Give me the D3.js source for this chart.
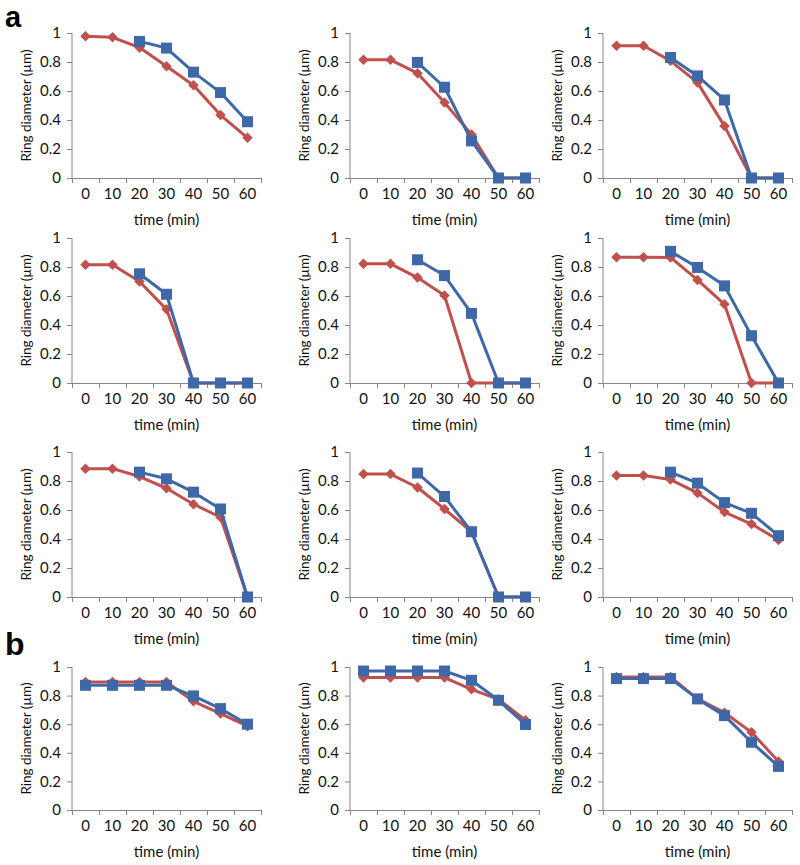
<!DOCTYPE html>
<html><head><meta charset="utf-8">
<script src="https://cdn.jsdelivr.net/npm/d3@7"></script>
<style>body{margin:0;background:#fff}svg{display:block}</style>
</head><body>
<script>
const times = ["0","10","20","30","40","50","60"];
const yTicks = [0, 0.2, 0.4, 0.6, 0.8, 1];
const yTickLabels = ["0","0.2","0.4","0.6","0.8","1"];
const sectionLabels = ["a","b"];
const xTitle = "time (min)";
const yTitle = "Ring diameter (µm)";

// red (diamond) series per panel
const redSeries = [
  [0.977,0.970,0.900,0.770,0.640,0.434,0.277],
  [0.815,0.815,0.723,0.520,0.300,0,0],
  [0.912,0.912,0.808,0.658,0.358,0,0],
  [0.815,0.815,0.700,0.508,0,0,0],
  [0.822,0.822,0.727,0.603,0,0,0],
  [0.868,0.868,0.866,0.711,0.543,0,0],
  [0.885,0.885,0.831,0.750,0.640,0.550,0],
  [0.848,0.848,0.755,0.607,0.450,0,0],
  [0.838,0.838,0.810,0.718,0.586,0.503,0.393],
  [0.895,0.895,0.895,0.895,0.760,0.674,0.586],
  [0.926,0.926,0.926,0.926,0.844,0.774,0.628],
  [0.930,0.930,0.930,0.777,0.681,0.544,0.339]
];
// blue (square) series per panel
const blueSeries = [
  [null,null,0.942,0.896,0.730,0.589,0.388],
  [null,null,0.797,0.626,0.256,0,0],
  [null,null,0.831,0.704,0.538,0,0],
  [null,null,0.753,0.612,0,0,0],
  [null,null,0.850,0.741,0.480,0,0],
  [null,null,0.908,0.797,0.670,0.326,0],
  [null,null,0.861,0.815,0.723,0.607,0],
  [null,null,0.855,0.693,0.450,0,0],
  [null,null,0.861,0.785,0.651,0.577,0.423],
  [0.872,0.872,0.872,0.872,0.798,0.709,0.600],
  [0.972,0.972,0.972,0.972,0.907,0.767,0.598],
  [0.919,0.919,0.919,0.777,0.660,0.474,0.305]
];

const W = 800, H = 865;
const colX = [72, 350, 603];
const rowTop = [33, 238, 452, 667];
const rowBottom = [178, 383, 597, 810];
const plotW = 189;
const RED = "#C0504D", BLUE = "#3E68A8", AXIS = "#868686", TXT = "#111";
const FONT = "Lato, 'Open Sans', sans-serif";

const svg = d3.select("body").append("svg").attr("width", W).attr("height", H);

svg.append("text").attr("x", 5).attr("y", 27).text(sectionLabels[0])
  .attr("font-family","'Liberation Sans', Arial, sans-serif").attr("font-weight","bold").attr("font-size", 29);
svg.append("text").attr("x", 5).attr("y", 655).text(sectionLabels[1])
  .attr("font-family","'Liberation Sans', Arial, sans-serif").attr("font-weight","bold").attr("font-size", 32);

for (let p = 0; p < 12; p++) {
  const r = Math.floor(p / 3), c = p % 3;
  const x0 = colX[c], top = rowTop[r], bot = rowBottom[r];
  const x = d3.scaleBand().domain(times).range([x0, x0 + plotW]);
  const y = d3.scaleLinear().domain([0, 1]).range([bot, top]);
  const g = svg.append("g");

  // y axis
  const ya = g.append("g").attr("transform", `translate(${x0},0)`)
    .call(d3.axisLeft(y).tickValues(yTicks).tickFormat((d,i)=>yTickLabels[i]).tickSize(5).tickPadding(6));
  ya.select(".domain").attr("stroke", AXIS).attr("d", `M-0.5,${bot}V${top}`).attr("transform","translate(0.5,0)");
  ya.selectAll(".tick line").attr("stroke", AXIS);
  ya.selectAll("text").attr("font-family", FONT).attr("font-size", 15).attr("fill", TXT);

  // x axis: tick marks at category boundaries
  const xa = g.append("g").attr("transform", `translate(0,${bot})`)
    .call(d3.axisBottom(x).tickSize(0).tickPadding(10));
  xa.select(".domain").attr("stroke", AXIS).attr("d", `M${x0},0.5H${x0+plotW}`);
  xa.selectAll("text").attr("font-family", FONT).attr("font-size", 15).attr("fill", TXT);
  const bounds = times.map(t => x(t)).concat([x0 + plotW]);
  g.append("g").selectAll("line").data(bounds).join("line")
    .attr("x1", d => Math.round(d)+0.5).attr("x2", d => Math.round(d)+0.5)
    .attr("y1", bot).attr("y2", bot + 5).attr("stroke", AXIS);

  // titles
  g.append("text").attr("x", x0 + plotW/2).attr("y", bot + 47).attr("text-anchor","middle")
    .attr("font-family", FONT).attr("font-size", 15).attr("fill", TXT).text(xTitle);
  g.append("text").attr("transform", `translate(${x0-41},${(top+bot)/2}) rotate(-90)`)
    .attr("text-anchor","middle").attr("font-family", FONT).attr("font-size", 13.5).attr("fill", TXT).text(yTitle);

  const cx = d => x(d.t) + x.bandwidth()/2;
  const line = d3.line().defined(d => d.v != null).x(cx).y(d => y(d.v));

  const red = redSeries[p].map((v,i)=>({t:times[i], v}));
  const blue = blueSeries[p].map((v,i)=>({t:times[i], v}));

  g.append("path").datum(red).attr("d", line).attr("fill","none").attr("stroke", RED).attr("stroke-width", 3).attr("stroke-linejoin","round");
  g.append("g").selectAll("path").data(red.filter(d=>d.v!=null)).join("path")
    .attr("d", d3.symbol(d3.symbolDiamond2, 70))
    .attr("transform", d => `translate(${cx(d)},${y(d.v)})`)
    .attr("fill", RED);

  g.append("path").datum(blue).attr("d", line).attr("fill","none").attr("stroke", BLUE).attr("stroke-width", 3).attr("stroke-linejoin","round");
  g.append("g").selectAll("rect").data(blue.filter(d=>d.v!=null)).join("rect")
    .attr("x", d => cx(d) - 5.5).attr("y", d => y(d.v) - 5.5)
    .attr("width", 11).attr("height", 11).attr("fill", BLUE);
}
</script>
</body></html>
